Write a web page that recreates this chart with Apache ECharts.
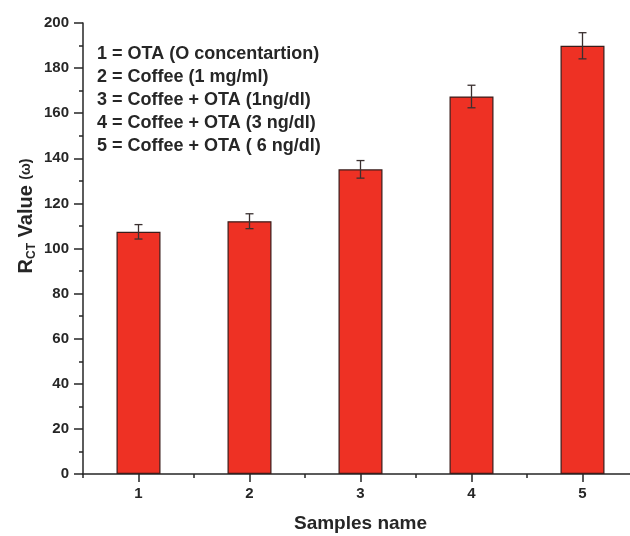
<!DOCTYPE html>
<html>
<head>
<meta charset="utf-8">
<script src="https://cdn.jsdelivr.net/npm/echarts@6/dist/echarts.min.js"></script>
<style>html,body{margin:0;padding:0;background:#fff;}#c{width:630px;height:536px;}</style>
</head>
<body>
<div id="c"></div>
<script>
var categories = ['1', '2', '3', '4', '5'];
var values = [107.4, 112.1, 135.1, 167.4, 189.9];
var errors = [3.2, 3.3, 3.9, 5.0, 5.8];
var legendLines = [
  '1 = OTA (O concentartion)',
  '2 = Coffee (1 mg/ml)',
  '3 = Coffee + OTA (1ng/dl)',
  '4 = Coffee + OTA (3 ng/dl)',
  '5 = Coffee + OTA ( 6 ng/dl)'
];
var yTicks = { min: 0, max: 200, interval: 20 };

var FONT = '"Liberation Sans", Arial, sans-serif';
var INK = '#262626';

var chart = echarts.init(document.getElementById('c'), null, { renderer: 'canvas' });

var errData = categories.map(function (c, i) { return [i, values[i] - errors[i], values[i] + errors[i]]; });

chart.setOption({
  animation: false,
  backgroundColor: '#fff',
  grid: { left: 83, width: 555, top: 23, bottom: 62, containLabel: false, outerBoundsMode: 'none' },
  xAxis: [
    {
      type: 'category', data: categories, boundaryGap: true,
      axisLine: { show: true, lineStyle: { color: INK, width: 1.5 } },
      axisTick: { show: true, alignWithLabel: true, length: 8, lineStyle: { color: INK, width: 1.5 } },
      axisLabel: { color: INK, fontFamily: FONT, fontWeight: 'bold', fontSize: 15, margin: 12 },
      splitLine: { show: false },
      name: 'Samples name', nameLocation: 'middle', nameGap: 40,
      nameTextStyle: { color: INK, fontFamily: FONT, fontWeight: 'bold', fontSize: 19 }
    },
    {
      type: 'category', data: categories, boundaryGap: true, position: 'bottom',
      axisLine: { show: false },
      axisTick: { show: true, alignWithLabel: false, length: 4, lineStyle: { color: INK, width: 1.5 } },
      axisLabel: { show: false },
      splitLine: { show: false }
    }
  ],
  yAxis: {
    type: 'value', min: yTicks.min, max: yTicks.max, interval: yTicks.interval,
    axisLine: { show: true, lineStyle: { color: INK, width: 1.5 } },
    axisTick: { show: true, length: 9, lineStyle: { color: INK, width: 1.5 } },
    minorTick: { show: true, splitNumber: 2, length: 4, lineStyle: { color: INK, width: 1.5 } },
    axisLabel: { color: INK, fontFamily: FONT, fontWeight: 'bold', fontSize: 15, margin: 14 },
    splitLine: { show: false }
  },
  series: [
    {
      type: 'bar', data: values, barWidth: 44, xAxisIndex: 0,
      itemStyle: { color: '#ee3124', borderColor: '#3a1c1a', borderWidth: 1.2 },
      z: 2
    },
    {
      type: 'custom', xAxisIndex: 0, data: errData, z: 5,
      renderItem: function (params, api) {
        var x = api.value(0);
        var lo = api.coord([x, api.value(1)]);
        var hi = api.coord([x, api.value(2)]);
        var hw = 4;
        var st = { stroke: '#3a3030', lineWidth: 1.3 };
        return {
          type: 'group',
          children: [
            { type: 'line', shape: { x1: hi[0], y1: hi[1], x2: lo[0], y2: lo[1] }, style: st },
            { type: 'line', shape: { x1: hi[0] - hw, y1: hi[1], x2: hi[0] + hw, y2: hi[1] }, style: st },
            { type: 'line', shape: { x1: lo[0] - hw, y1: lo[1], x2: lo[0] + hw, y2: lo[1] }, style: st }
          ]
        };
      }
    }
  ],
  graphic: legendLines.map(function (t, i) {
    return {
      type: 'text', left: 97, top: 45 + i * 23,
      style: { text: t, fill: INK, font: 'bold 18px ' + FONT }
    };
  }).concat([{
    type: 'text', x: 26, y: 216, rotation: Math.PI / 2,
    style: {
      text: '{r|R}{s|CT}{r| Value }{w|(ω)}',
      align: 'center', verticalAlign: 'middle', fill: INK,
      rich: {
        r: { fill: INK, fontFamily: FONT, fontWeight: 'bold', fontSize: 20, lineHeight: 24 },
        s: { fill: INK, fontFamily: FONT, fontWeight: 'bold', fontSize: 12, lineHeight: 24, verticalAlign: 'bottom', padding: [12, 0, 0, 0] },
        w: { fill: INK, fontFamily: FONT, fontWeight: 'bold', fontSize: 14, lineHeight: 24 }
      }
    }
  }])
});
</script>
</body>
</html>
